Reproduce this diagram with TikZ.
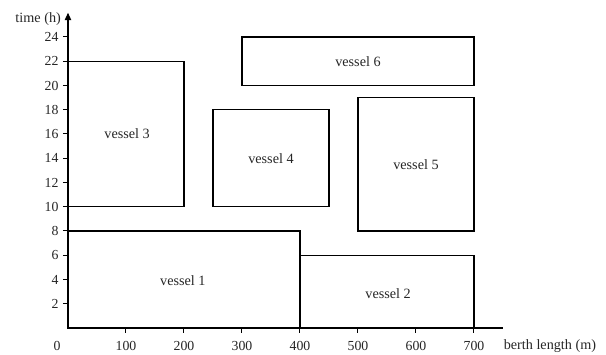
\documentclass[tikz,border=0pt]{standalone}
\usepackage{fontspec}
\setmainfont{Liberation Serif}
\usetikzlibrary{arrows.meta}
\begin{document}
\begin{tikzpicture}[x=0.58pt, y=12.125pt,
  axisline/.style={line width=1.1pt, black},
  tickmark/.style={line width=1pt, black},
  berth/.style={line width=1.3pt, black},
  lbl/.style={font=\fontsize{14.2}{16}\selectfont, inner sep=0pt, text=black!85},
  ticklbl/.style={font=\fontsize{13.8}{16}\selectfont, inner sep=0pt, text=black!85}]
  % canvas
  \useasboundingbox (-117.24,-2.227) rectangle (927.6,27.05);

  % axes
  \coordinate (O) at (0,0);
  \coordinate (xend) at (750,0);
  \coordinate (ytop) at (0,26.0);
  \draw[axisline] (O) -- (xend);
  \draw[axisline, -{Triangle[width=6.5pt,length=7.5pt]}] (O) -- (ytop);
  \node[lbl, anchor=east] (ylab) at (-12,25.45) {time (h)};
  \node[lbl, anchor=west] (xlab) at (751,-1.5) {berth length (m)};

  % time ticks
  \foreach \t in {2,4,...,24} {
    \draw[tickmark] (-9,\t) -- (0,\t);
    \node[ticklbl, anchor=east] (yt\t) at (-16,\t) {\t};
  }
  % berth ticks
  \foreach \b in {100,200,...,700} {
    \draw[tickmark] (\b,0) -- (\b,-0.4);
    \node[ticklbl] (xt\b) at (\b,-1.5) {\b};
  }
  \node[ticklbl] (xt0) at (-19,-1.5) {0};

  % vessels: berth interval x time interval
  \draw[berth] (0,0) rectangle (400,8);
  \node[lbl] (v1) at (198,3.9) {vessel 1};
  \draw[berth] (400,0) rectangle (700,6);
  \node[lbl] (v2) at (552,2.8) {vessel 2};
  \draw[berth] (0,10) rectangle (200,22);
  \node[lbl] (v3) at (102,16) {vessel 3};
  \draw[berth] (250,10) rectangle (450,18);
  \node[lbl] (v4) at (350,13.95) {vessel 4};
  \draw[berth] (500,8) rectangle (700,19);
  \node[lbl] (v5) at (600,13.45) {vessel 5};
  \draw[berth] (300,20) rectangle (700,24);
  \node[lbl] (v6) at (500,22) {vessel 6};
\end{tikzpicture}
\end{document}
